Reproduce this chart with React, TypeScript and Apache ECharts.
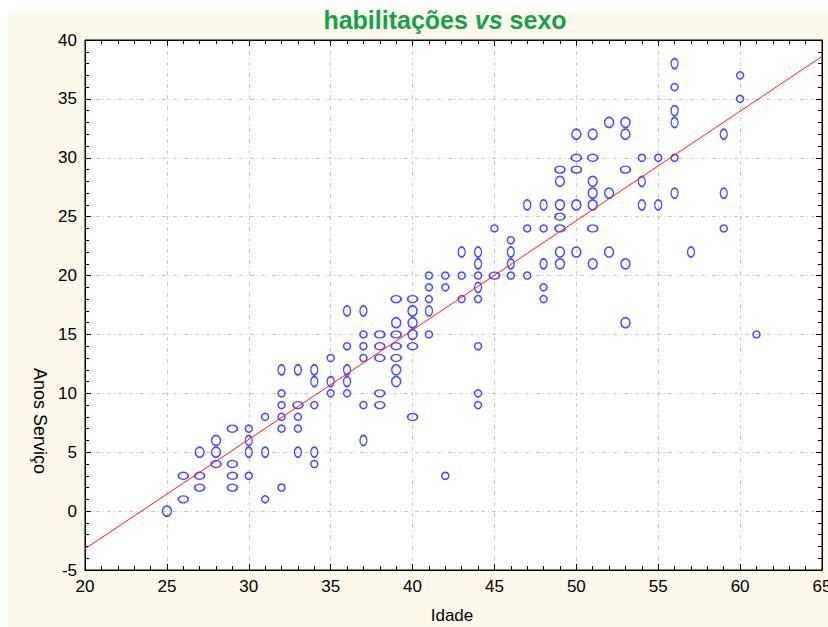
import React, { useEffect, useRef } from "react";
import * as echarts from "echarts";

// Observations: [Idade, Anos Serviço, weight (marker class)]
const observations: [number, number, number][] = [
  [25, 0, 4],
  [26, 3, 3], [26, 1, 3],
  [27, 5, 4], [27, 3, 3], [27, 2, 3],
  [28, 6, 4], [28, 5, 4], [28, 4, 3],
  [29, 7, 3], [29, 4, 3], [29, 3, 3], [29, 2, 3],
  [30, 7, 1], [30, 6, 2], [30, 5, 2], [30, 3, 1],
  [31, 8, 1], [31, 5, 2], [31, 1, 1],
  [32, 12, 2], [32, 10, 1], [32, 9, 1], [32, 8, 1], [32, 7, 1], [32, 2, 1],
  [33, 12, 2], [33, 9, 3], [33, 8, 1], [33, 7, 1], [33, 5, 2],
  [34, 12, 2], [34, 11, 2], [34, 9, 1], [34, 5, 2], [34, 4, 1],
  [35, 13, 1], [35, 11, 2], [35, 10, 1],
  [36, 17, 2], [36, 14, 1], [36, 12, 2], [36, 11, 2], [36, 10, 1],
  [37, 17, 2], [37, 15, 1], [37, 14, 1], [37, 13, 1], [37, 9, 1], [37, 6, 2],
  [38, 15, 3], [38, 14, 3], [38, 13, 3], [38, 10, 3], [38, 9, 3],
  [39, 18, 3], [39, 16, 4], [39, 15, 3], [39, 14, 3], [39, 13, 3], [39, 12, 4], [39, 11, 4],
  [40, 18, 3], [40, 17, 4], [40, 16, 4], [40, 15, 4], [40, 14, 3], [40, 8, 3],
  [41, 20, 1], [41, 19, 1], [41, 18, 1], [41, 17, 2], [41, 15, 1],
  [42, 20, 1], [42, 19, 1], [42, 3, 1],
  [43, 22, 2], [43, 20, 1], [43, 18, 1],
  [44, 22, 2], [44, 21, 2], [44, 20, 1], [44, 19, 2], [44, 18, 1], [44, 14, 1], [44, 10, 1], [44, 9, 1],
  [45, 24, 1], [45, 20, 3],
  [46, 23, 1], [46, 22, 2], [46, 21, 2], [46, 20, 1],
  [47, 26, 2], [47, 24, 1], [47, 20, 1],
  [48, 26, 2], [48, 24, 1], [48, 21, 2], [48, 19, 1], [48, 18, 1],
  [49, 29, 3], [49, 28, 4], [49, 26, 4], [49, 25, 3], [49, 24, 3], [49, 22, 4], [49, 21, 4],
  [50, 32, 4], [50, 30, 3], [50, 29, 3], [50, 26, 4], [50, 22, 4],
  [51, 32, 4], [51, 30, 3], [51, 28, 4], [51, 27, 4], [51, 26, 4], [51, 24, 3], [51, 21, 4],
  [52, 33, 4], [52, 27, 4], [52, 22, 4],
  [53, 33, 4], [53, 32, 4], [53, 29, 3], [53, 21, 4], [53, 16, 4],
  [54, 30, 1], [54, 28, 2], [54, 26, 2],
  [55, 30, 1], [55, 26, 2],
  [56, 38, 2], [56, 36, 1], [56, 34, 2], [56, 33, 2], [56, 30, 1], [56, 27, 2],
  [57, 22, 2],
  [59, 32, 2], [59, 27, 2], [59, 24, 1],
  [60, 37, 1], [60, 35, 1],
  [61, 15, 1],
];

// Fitted line endpoints
const fitAge = [20, 65];
const fitYears = [-3.2, 38.6];

const xTicks = { min: 20, max: 65, step: 5 };
const yTicks = { min: -5, max: 40, step: 5 };

const MARKER_SIZES: Record<number, number[]> = {
  1: [7, 7],
  2: [7, 10],
  3: [10, 7],
  4: [9, 10],
};

const FONT = "'Liberation Sans', Arial, sans-serif";
const GREEN = "#18a04a";

export default function App() {
  const ref = useRef<HTMLDivElement>(null);

  useEffect(() => {
    if (!ref.current) return;
    const chart = echarts.init(ref.current, undefined, { renderer: "svg" });

    const axisCommon = {
      type: "value" as const,
      axisLine: { show: true, onZero: false, lineStyle: { color: "#000", width: 1 } },
      axisTick: { show: true, inside: true, length: 6, lineStyle: { color: "#000" } },
      minorTick: { show: true, splitNumber: 5, length: 4, lineStyle: { color: "#000" } },
    };

    chart.setOption({
      animation: false,
      backgroundColor: "#ffffff",
      title: {
        text: "{a|habilitações }{b|vs}{a| sexo}",
        left: 440,
        top: 2,
        textAlign: "center",
        textStyle: {
          rich: {
            a: { fontSize: 25, fontWeight: "bold", color: GREEN, fontFamily: FONT },
            b: { fontSize: 25, fontWeight: "bold", fontStyle: "italic", color: GREEN, fontFamily: FONT },
          },
        },
      },
      graphic: [
        {
          type: "rect",
          z: -10,
          silent: true,
          shape: { x: 8, y: 12, width: 820, height: 615 },
          style: { fill: "#fcf8ec" },
        },
        {
          type: "text",
          x: 452,
          y: 615,
          style: {
            text: "Idade",
            fontSize: 17,
            fontFamily: FONT,
            fill: "#000",
            align: "center",
            verticalAlign: "middle",
          },
        },
        {
          type: "text",
          x: 40,
          y: 421,
          rotation: -Math.PI / 2,
          style: {
            text: "Anos Serviço",
            fontSize: 18,
            fontFamily: FONT,
            fill: "#000",
            align: "center",
            verticalAlign: "middle",
          },
        },
      ],
      grid: {
        left: 85,
        top: 40,
        right: 6,
        bottom: 57,
        outerBoundsMode: "none",
        containLabel: false,
        show: true,
        backgroundColor: "#ffffff",
        borderColor: "#000",
        borderWidth: 1,
      },
      xAxis: [
        {
          ...axisCommon,
          position: "bottom",
          min: xTicks.min,
          max: xTicks.max,
          interval: xTicks.step,
          axisLabel: { color: "#000", fontSize: 17, fontFamily: FONT, margin: 8 },
          splitLine: { show: true, lineStyle: { color: "#c8c8c8", width: 1, type: [4, 3, 1, 3] } },
        },
        {
          ...axisCommon,
          position: "top",
          min: xTicks.min,
          max: xTicks.max,
          interval: xTicks.step,
          axisLabel: { show: false },
          splitLine: { show: false },
        },
      ],
      yAxis: [
        {
          ...axisCommon,
          position: "left",
          min: yTicks.min,
          max: yTicks.max,
          interval: yTicks.step,
          axisLabel: { color: "#000", fontSize: 17, fontFamily: FONT, margin: 8 },
          splitLine: { show: true, lineStyle: { color: "#c8c8c8", width: 1, type: [4, 3, 1, 3] } },
        },
        {
          ...axisCommon,
          position: "right",
          min: yTicks.min,
          max: yTicks.max,
          interval: yTicks.step,
          axisLabel: { show: false },
          splitLine: { show: false },
        },
      ],
      series: [
        {
          type: "scatter",
          xAxisIndex: 0,
          yAxisIndex: 0,
          symbol: "circle",
          symbolSize: (v: number[]) => MARKER_SIZES[v[2]] || [7, 9],
          data: observations,
          itemStyle: { color: "rgba(0,0,0,0)", borderColor: "#1a1aff", borderWidth: 1.5 },
          z: 3,
        },
        {
          type: "line",
          xAxisIndex: 0,
          yAxisIndex: 0,
          data: fitAge.map((a, i) => [a, fitYears[i]]),
          symbol: "none",
          lineStyle: { color: "#ff1a1a", width: 1 },
          z: 4,
        },
      ],
    });

    return () => chart.dispose();
  }, []);

  return (
    <div
      ref={ref}
      style={{ position: "fixed", left: 0, top: 0, width: 828, height: 627 }}
    />
  );
}
